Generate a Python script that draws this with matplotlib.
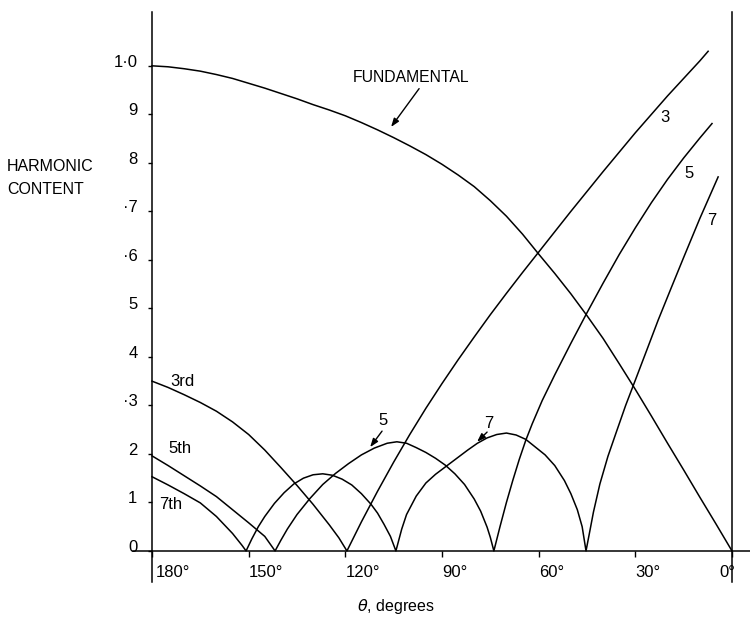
# -*- coding: utf-8 -*-
"""
Harmonic content vs conduction angle theta (fundamental, 3rd, 5th, 7th)
"""
import matplotlib
matplotlib.use("Agg")
import matplotlib.pyplot as plt
from matplotlib.transforms import offset_copy

plt.rcParams['font.family'] = ['Liberation Sans', 'DejaVu Sans']

########################### Data ###########################
fund_deg = [180, 175, 170, 165, 160, 155, 150, 145, 140, 135, 130, 125, 120, 115, 110,
            105, 100, 95, 90, 85, 80, 75, 70, 65, 60, 55, 50, 45, 40, 35, 30, 25, 20,
            15, 10, 5, 0]
fund_val = [1.000, 0.998, 0.994, 0.989, 0.982, 0.974, 0.964, 0.954, 0.943, 0.932, 0.920,
            0.909, 0.897, 0.883, 0.868, 0.852, 0.835, 0.817, 0.797, 0.775, 0.751, 0.722,
            0.690, 0.653, 0.612, 0.572, 0.530, 0.485, 0.438, 0.386, 0.333, 0.278, 0.222,
            0.167, 0.111, 0.056, 0.0]

third_deg = [180, 175, 170, 165, 160, 155, 150, 145, 140, 135, 130, 125, 122, 119.5,
             115, 110, 105, 100, 95, 90, 85, 80, 75, 70, 65, 60, 55, 50, 45, 40, 35,
             30, 25, 20, 15, 10, 7.4]
third_val = [0.350, 0.337, 0.322, 0.306, 0.288, 0.266, 0.240, 0.208, 0.172, 0.135, 0.096,
             0.054, 0.027, 0.0, 0.060, 0.123, 0.183, 0.240, 0.294, 0.345, 0.394, 0.441,
             0.487, 0.531, 0.574, 0.616, 0.658, 0.700, 0.741, 0.782, 0.822, 0.862, 0.900,
             0.938, 0.974, 1.010, 1.030]

fifth_deg = [180, 175, 170, 165, 160, 155, 150, 145, 141.8, 140, 138, 135, 131, 127, 123,
             119, 115, 111, 107, 104, 101, 98, 95, 92, 89, 86, 83, 80, 78, 76, 75, 73.9,
             72, 70, 68, 66, 64, 62, 60, 58.9, 55, 50, 45, 40, 35, 30, 25, 20, 15, 10, 6.2]
fifth_val = [0.196, 0.176, 0.155, 0.134, 0.112, 0.085, 0.058, 0.030, 0.0, 0.022, 0.045,
             0.075, 0.108, 0.137, 0.160, 0.180, 0.198, 0.212, 0.222, 0.225, 0.222, 0.213,
             0.203, 0.191, 0.177, 0.159, 0.137, 0.107, 0.082, 0.049, 0.028, 0.0,
             0.050, 0.100, 0.146, 0.189, 0.228, 0.262, 0.293, 0.310, 0.363, 0.428, 0.491,
             0.552, 0.611, 0.666, 0.718, 0.766, 0.810, 0.851, 0.881]

seventh_deg = [180, 175, 170, 165, 160, 155, 152, 150.8, 149, 147, 145, 142, 139, 136, 133,
               130, 127, 124, 121, 118, 115, 112, 110, 108, 106, 104.3, 102.5, 101, 98, 95,
               92, 88.4, 85, 82, 79, 76, 73, 70, 67, 64, 61, 58, 55, 52, 50, 48, 46.5, 45.3,
               44, 43, 41, 38.5, 36, 33, 30, 26.5, 22.9, 19, 15, 10, 4.3]
seventh_val = [0.153, 0.136, 0.118, 0.099, 0.071, 0.036, 0.011, 0.0, 0.025, 0.050, 0.071,
               0.098, 0.120, 0.138, 0.150, 0.157, 0.159, 0.156, 0.148, 0.136, 0.118, 0.096,
               0.078, 0.055, 0.030, 0.0, 0.045, 0.075, 0.113, 0.140, 0.158, 0.176, 0.193,
               0.208, 0.222, 0.233, 0.240, 0.243, 0.239, 0.230, 0.214, 0.198, 0.176, 0.145,
               0.118, 0.085, 0.050, 0.0, 0.045, 0.080, 0.138, 0.195, 0.243, 0.300, 0.352,
               0.413, 0.476, 0.540, 0.605, 0.685, 0.771]

x_ticks = [180, 150, 120, 90, 60, 30, 0]
x_tick_labels = ['180°', '150°', '120°', '90°', '60°', '30°', '0°']
y_ticks = [1.0, 0.9, 0.8, 0.7, 0.6, 0.5, 0.4, 0.3, 0.2, 0.1, 0.0]
y_tick_labels = ['1·0', '9', '8', '·7', '·6', '5', '4', '·3', '2', '1', '0']

###############################################################################

fig = plt.figure(figsize=(7.5, 6.27), dpi=100)
ax = fig.add_axes([0.1773, 0.0718, 0.8227, 0.9091])
ax.set_xlim(185.9, -5.59)
ax.set_ylim(-0.064, 1.111)

for d, v in [(fund_deg, fund_val), (third_deg, third_val),
             (fifth_deg, fifth_val), (seventh_deg, seventh_val)]:
    ax.plot(d, v, color='k', lw=1.1, solid_joinstyle='round')

# axes drawn through the data origin, like the hand-drawn original
ax.spines['top'].set_visible(False)
ax.spines['left'].set_position(('data', 180))
ax.spines['right'].set_position(('data', 0))
ax.spines['bottom'].set_position(('data', 0))
for s in ['left', 'right', 'bottom']:
    ax.spines[s].set_linewidth(1.1)

ax.set_xticks(x_ticks)
ax.set_yticks(y_ticks)
ax.set_xticklabels([])
ax.set_yticklabels([])
ax.tick_params(axis='x', direction='out', length=4.2, width=1.0)
ax.tick_params(axis='y', direction='out', length=3, width=1.0)

# tick labels as plain texts so they can sit where the original puts them
ytrans = offset_copy(ax.transData, fig=fig, x=-10.5, y=-0.7, units='points')
for v, lab in zip(y_ticks, y_tick_labels):
    ax.text(180, v, lab, ha='right', va='baseline', fontsize=12, transform=ytrans)

xtrans = offset_copy(ax.transData, fig=fig, x=0, y=-18.7, units='points')
xtrans180 = offset_copy(ax.transData, fig=fig, x=3, y=-18.7, units='points')
xtrans0 = offset_copy(ax.transData, fig=fig, x=2.2, y=-18.7, units='points')
for d, lab in zip(x_ticks, x_tick_labels):
    if d == 0:
        ax.text(d, 0, lab, ha='right', va='baseline', fontsize=12, transform=xtrans0)
    elif d == 180:
        ax.text(d, 0, lab, ha='left', va='baseline', fontsize=12, transform=xtrans180)
    else:
        ax.text(d, 0, lab, ha='left', va='baseline', fontsize=12, transform=xtrans)

#########################  Labels and arrows  #################################
fig.text(7/750, 1 - 171/627, 'HARMONIC', fontsize=11.5, ha='left', va='baseline')
fig.text(7/750, 1 - 194/627, 'CONTENT', fontsize=11.5, ha='left', va='baseline')
fig.text(396/750, 1 - 607/627, r'$\theta$, degrees', fontsize=11.5, ha='center', va='center')

ax.text(99.6, 0.975, 'FUNDAMENTAL', fontsize=11.3, ha='center', va='center')
arrow = dict(arrowstyle='-|>,head_length=0.5,head_width=0.18', color='k', lw=1.0,
             shrinkA=0, shrinkB=0)
ax.annotate('', xy=(105.8, 0.874), xytext=(97.1, 0.953), arrowprops=arrow)

ax.text(170.5, 0.350, '3rd', fontsize=12, ha='center', va='center')
ax.text(171.2, 0.212, '5th', fontsize=12, ha='center', va='center')
ax.text(174.3, 0.095, '7th', fontsize=12, ha='center', va='center')

ax.text(20.8, 0.893, '3', fontsize=12, ha='center', va='center')
ax.text(13.3, 0.779, '5', fontsize=12, ha='center', va='center')
ax.text(6.2, 0.682, '7', fontsize=12, ha='center', va='center')

ax.text(108.3, 0.268, '5', fontsize=12, ha='center', va='center')
ax.annotate('', xy=(112.3, 0.214), xytext=(108.6, 0.247), arrowprops=arrow)
ax.text(75.4, 0.262, '7', fontsize=12, ha='center', va='center')
ax.annotate('', xy=(79.1, 0.225), xytext=(76.0, 0.245), arrowprops=arrow)

plt.savefig('out.png', dpi=100, facecolor='w')
